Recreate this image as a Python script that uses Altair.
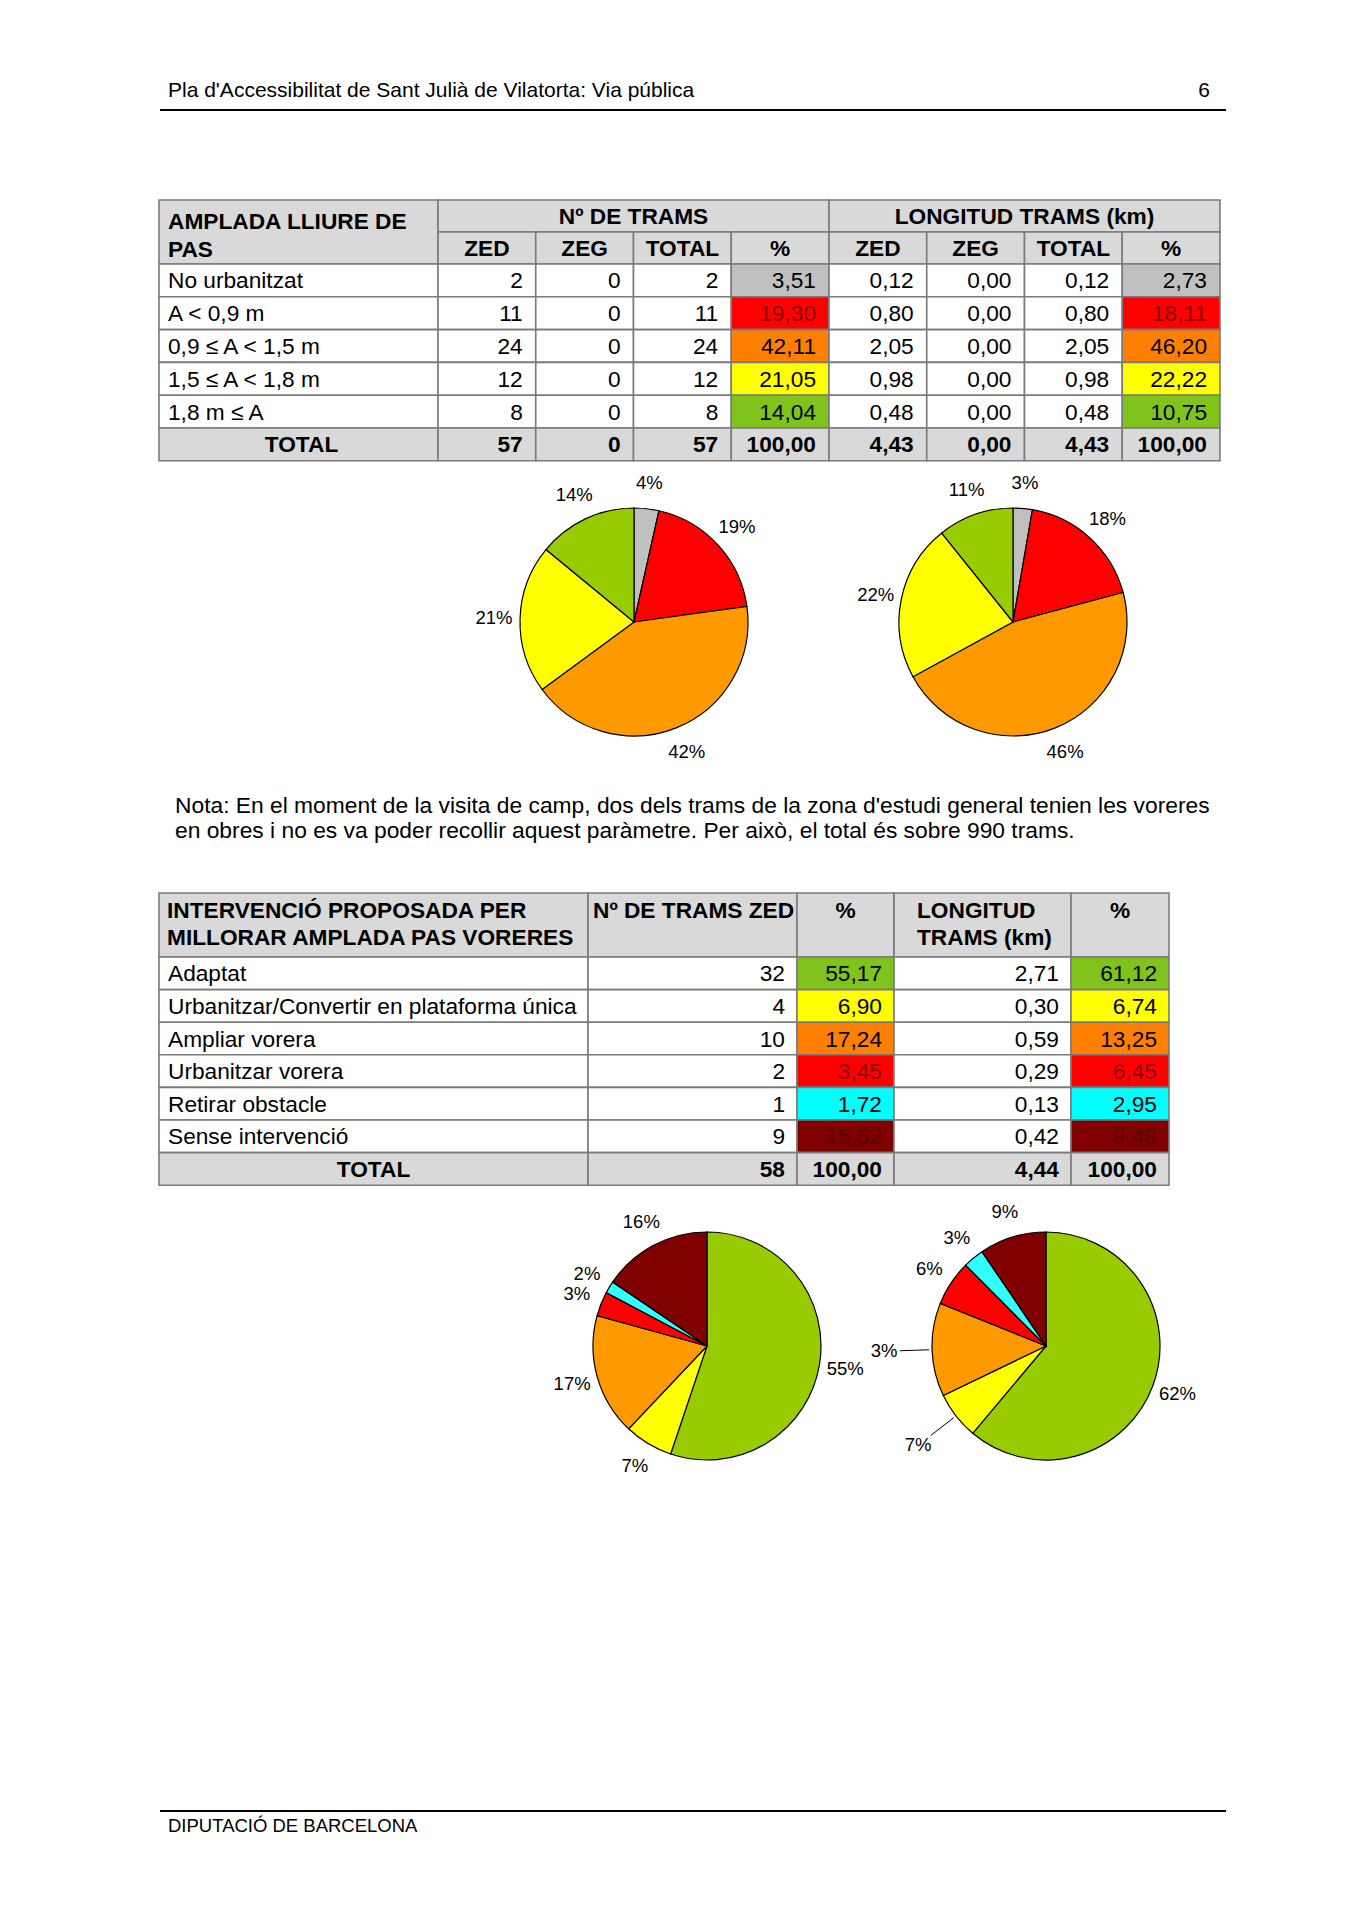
import altair as alt
import pandas as pd

# ---------------- data ----------------
header_text = "Pla d'Accessibilitat de Sant Julià de Vilatorta: Via pública"
page_number = "6"
footer_text = "DIPUTACIÓ DE BARCELONA"
note_lines = [
    "Nota: En el moment de la visita de camp, dos dels trams de la zona d'estudi general tenien les voreres",
    "en obres i no es va poder recollir aquest paràmetre. Per això, el total és sobre 990 trams.",
]

t1_title = ["AMPLADA LLIURE DE", "PAS"]
t1_group_heads = ["Nº DE TRAMS", "LONGITUD TRAMS (km)"]
t1_sub_heads = ["ZED", "ZEG", "TOTAL", "%", "ZED", "ZEG", "TOTAL", "%"]
t1_cats = ["No urbanitzat", "A < 0,9 m", "0,9 ≤ A < 1,5 m", "1,5 ≤ A < 1,8 m", "1,8 m ≤ A"]
t1_n_zed = [2, 11, 24, 12, 8]
t1_n_zeg = [0, 0, 0, 0, 0]
t1_n_tot = [2, 11, 24, 12, 8]
t1_n_pct = [3.51, 19.30, 42.11, 21.05, 14.04]
t1_km_zed = [0.12, 0.80, 2.05, 0.98, 0.48]
t1_km_zeg = [0.00, 0.00, 0.00, 0.00, 0.00]
t1_km_tot = [0.12, 0.80, 2.05, 0.98, 0.48]
t1_km_pct = [2.73, 18.11, 46.20, 22.22, 10.75]
t1_total_label = "TOTAL"
t1_totals = [57, 0, 57, 100.00, 4.43, 0.00, 4.43, 100.00]

t2_title = ["INTERVENCIÓ PROPOSADA PER", "MILLORAR AMPLADA PAS VORERES"]
t2_heads = [["Nº DE TRAMS ZED"], ["%"], ["LONGITUD", "TRAMS (km)"], ["%"]]
t2_cats = ["Adaptat", "Urbanitzar/Convertir en plataforma única", "Ampliar vorera",
           "Urbanitzar vorera", "Retirar obstacle", "Sense intervenció"]
t2_n_zed = [32, 4, 10, 2, 1, 9]
t2_n_pct = [55.17, 6.90, 17.24, 3.45, 1.72, 15.52]
t2_km = [2.71, 0.30, 0.59, 0.29, 0.13, 0.42]
t2_km_pct = [61.12, 6.74, 13.25, 6.45, 2.95, 9.49]
t2_total_label = "TOTAL"
t2_totals = [58, 100.00, 4.44, 100.00]

pie1_labels = ["4%", "19%", "42%", "21%", "14%"]
pie2_labels = ["3%", "18%", "46%", "22%", "11%"]
pie3_labels = ["55%", "7%", "17%", "3%", "2%", "16%"]
pie4_labels = ["62%", "7%", "3%", "6%", "3%", "9%"]

# ---------------- style ----------------
FONT = "Liberation Sans, Arial, Helvetica, sans-serif"
TFS = 22.7
HEAD = "#d9d9d9"
t1_table_colors = ["#c0c0c0", "#ff0000", "#ff8000", "#ffff00", "#80c31c"]
t1_pie_colors = ["#c0c0c0", "#ff0000", "#ff9900", "#ffff00", "#99cc00"]
t2_table_colors = ["#80c31c", "#ffff00", "#ff8000", "#ff0000", "#00ffff", "#800000"]
t2_pie_colors = ["#99cc00", "#ffff00", "#ff9900", "#ff0000", "#33ffff", "#800000"]
dark_text = {"A < 0,9 m": "r", "Urbanitzar vorera": "r", "Sense intervenció": "m"}
pie4_leader_cats = ["Urbanitzar/Convertir en plataforma única", "Ampliar vorera"]

key_domain = ["h", "w"] + ["t1:" + c for c in t1_cats] + ["p1:" + c for c in t1_cats] \
    + ["t2:" + c for c in t2_cats] + ["p2:" + c for c in t2_cats]
key_range = [HEAD, "#ffffff"] + t1_table_colors + t1_pie_colors + t2_table_colors + t2_pie_colors
cscale = alt.Scale(domain=key_domain, range=key_range)
tscale = alt.Scale(domain=["k", "r", "m"], range=["#000000", "#8a0000", "#5a0000"])

W, H = 1337, 1902
xs = alt.Scale(domain=[8, 8 + W], nice=False, zero=False)
ys = alt.Scale(domain=[8 + H, 8], nice=False, zero=False)


def fmt2(v):
    return f"{v:.2f}".replace(".", ",")


def fmt0(v):
    return str(int(v))


rects, texts = [], []


def rect(x, x2, y, y2, key):
    rects.append(dict(x=x, x2=x2, y=y, y2=y2, key=key))


def txt(x, y, s, align="left", bold=False, tc="k"):
    texts.append(dict(x=x, y=y, text=s, align=align, bold=bold, tc=tc))


PADL, PADR = 9, 13

# ---- table 1 ----
C1 = [159, 438] + [438 + 97.75 * k for k in range(1, 9)]
T1_TOP, T1_H1, T1_H2, RH1 = 200, 232, 264, 32.8
rect(C1[0], C1[1], T1_TOP, T1_H2, "h")
txt(C1[0] + PADL, 222, t1_title[0], bold=True)
txt(C1[0] + PADL, 250, t1_title[1], bold=True)
for g, head in enumerate(t1_group_heads):
    a, b = C1[1 + 4 * g], C1[5 + 4 * g]
    rect(a, b, T1_TOP, T1_H1, "h")
    txt((a + b) / 2, 217, head, "center", True)
for k, head in enumerate(t1_sub_heads):
    a, b = C1[1 + k], C1[2 + k]
    rect(a, b, T1_H1, T1_H2, "h")
    txt((a + b) / 2, 249, head, "center", True)
t1_cols = [t1_n_zed, t1_n_zeg, t1_n_tot, t1_n_pct, t1_km_zed, t1_km_zeg, t1_km_tot, t1_km_pct]
t1_fmt = [fmt0, fmt0, fmt0, fmt2, fmt2, fmt2, fmt2, fmt2]
for i, cat in enumerate(t1_cats):
    y = T1_H2 + RH1 * i
    y2 = y + RH1
    ym = (y + y2) / 2 + 1
    rect(C1[0], C1[1], y, y2, "w")
    txt(C1[0] + PADL, ym, cat)
    for k, col in enumerate(t1_cols):
        pct = k in (3, 7)
        rect(C1[1 + k], C1[2 + k], y, y2, ("t1:" + cat) if pct else "w")
        txt(C1[2 + k] - PADR, ym, t1_fmt[k](col[i]), "right",
            tc=dark_text.get(cat, "k") if pct else "k")
y = T1_H2 + RH1 * len(t1_cats)
y2 = y + RH1
ym = (y + y2) / 2 + 1
rect(C1[0], C1[1], y, y2, "h")
txt((C1[0] + C1[1]) / 2 + 3, ym, t1_total_label, "center", True)
for k, v in enumerate(t1_totals):
    rect(C1[1 + k], C1[2 + k], y, y2, "h")
    txt(C1[2 + k] - PADR, ym, t1_fmt[k](v), "right", True)

# ---- table 2 ----
C2 = [159, 588, 797, 894, 1071, 1169]
T2_TOP, T2_H, RH2 = 893, 957, 32.6
rect(C2[0], C2[1], T2_TOP, T2_H, "h")
txt(C2[0] + 8, 911, t2_title[0], bold=True)
txt(C2[0] + 8, 938, t2_title[1], bold=True)
for k, lines in enumerate(t2_heads):
    a, b = C2[1 + k], C2[2 + k]
    rect(a, b, T2_TOP, T2_H, "h")
    for j, line in enumerate(lines):
        if line == "%":
            txt((a + b) / 2, 911 + 27 * j, line, "center", True)
        elif k == 0:
            txt(a + 5, 911 + 27 * j, line, "left", True)
        else:
            txt(a + 23, 911 + 27 * j, line, "left", True)
t2_cols = [t2_n_zed, t2_n_pct, t2_km, t2_km_pct]
t2_fmt = [fmt0, fmt2, fmt2, fmt2]
for i, cat in enumerate(t2_cats):
    y = T2_H + RH2 * i
    y2 = y + RH2
    ym = (y + y2) / 2 + 1
    rect(C2[0], C2[1], y, y2, "w")
    txt(C2[0] + PADL, ym, cat)
    for k, col in enumerate(t2_cols):
        pct = k in (1, 3)
        rect(C2[1 + k], C2[2 + k], y, y2, ("t2:" + cat) if pct else "w")
        txt(C2[2 + k] - PADR + 1, ym, t2_fmt[k](col[i]), "right",
            tc=dark_text.get(cat, "k") if pct else "k")
y = T2_H + RH2 * len(t2_cats)
y2 = y + RH2
ym = (y + y2) / 2 + 1
rect(C2[0], C2[1], y, y2, "h")
txt((C2[0] + C2[1]) / 2, ym, t2_total_label, "center", True)
for k, v in enumerate(t2_totals):
    rect(C2[1 + k], C2[2 + k], y, y2, "h")
    txt(C2[2 + k] - PADR + 1, ym, t2_fmt[k](v), "right", True)

rect_df = pd.DataFrame(rects)
text_df = pd.DataFrame(texts)

layers = []

layers.append(
    alt.Chart(rect_df).mark_rect(stroke="#7b7b7b", strokeWidth=1.6).encode(
        x=alt.X("x:Q", scale=xs, axis=None),
        x2="x2:Q",
        y=alt.Y("y:Q", scale=ys, axis=None),
        y2="y2:Q",
        color=alt.Color("key:N", scale=cscale, legend=None),
    )
)

for align in ["left", "right", "center"]:
    for bold in [False, True]:
        sub = text_df[(text_df["align"] == align) & (text_df["bold"] == bold)]
        if len(sub) == 0:
            continue
        layers.append(
            alt.Chart(sub).mark_text(
                align=align, baseline="middle", font=FONT, fontSize=TFS,
                fontWeight="bold" if bold else "normal",
            ).encode(
                x=alt.X("x:Q", scale=xs, axis=None),
                y=alt.Y("y:Q", scale=ys, axis=None),
                text="text:N",
                color=alt.Color("tc:N", scale=tscale, legend=None),
            )
        )

# ---- page header / note / footer ----
page_df = pd.DataFrame([
    dict(x=168, y=91, text=header_text, kind="hl"),
    dict(x=1210, y=91, text=page_number, kind="hr"),
    dict(x=175, y=806, text=note_lines[0], kind="n"),
    dict(x=175, y=831, text=note_lines[1], kind="n"),
    dict(x=168, y=1826, text=footer_text, kind="f"),
])
for kind, align, fs in [("hl", "left", 21), ("hr", "right", 21), ("n", "left", 22.8), ("f", "left", 18.5)]:
    layers.append(
        alt.Chart(page_df).transform_filter(alt.datum.kind == kind).mark_text(
            align=align, baseline="middle", font=FONT, fontSize=fs, color="black"
        ).encode(
            x=alt.X("x:Q", scale=xs, axis=None),
            y=alt.Y("y:Q", scale=ys, axis=None),
            text="text:N",
        )
    )

rule_df = pd.DataFrame([dict(x=160, x2=1226, y=110), dict(x=160, x2=1226, y=1811)])
layers.append(
    alt.Chart(rule_df).mark_rule(color="black", strokeWidth=2).encode(
        x=alt.X("x:Q", scale=xs, axis=None), x2="x2:Q",
        y=alt.Y("y:Q", scale=ys, axis=None),
    )
)

# ---- pies ----
R = 114
LR = 140


def pie_df(cats, vals, labels, prefix, leaders=()):
    return pd.DataFrame({
        "idx": list(range(len(cats))),
        "cat": cats,
        "v": vals,
        "key": [prefix + c for c in cats],
        "lab": [("" if c in leaders else l) for c, l in zip(cats, labels)],
        "lab2": [(l if c in leaders else "") for c, l in zip(cats, labels)],
    })


pies = [
    (pie_df(t1_cats, t1_n_pct, pie1_labels, "p1:"), 634, 622, ()),
    (pie_df(t1_cats, t1_km_pct, pie2_labels, "p1:"), 1013, 622, ()),
    (pie_df(t2_cats, t2_n_pct, pie3_labels, "p2:"), 707, 1346, ()),
    (pie_df(t2_cats, t2_km_pct, pie4_labels, "p2:", pie4_leader_cats), 1046, 1346,
     tuple(pie4_leader_cats)),
]

for df, cx, cy, leaders in pies:
    base = alt.Chart(df).encode(
        theta=alt.Theta("v:Q", stack=True),
        order=alt.Order("idx:Q"),
        x=alt.value(cx - 8),
        y=alt.value(cy - 8),
    )
    layers.append(
        base.mark_arc(outerRadius=R, stroke="black", strokeWidth=1.2).encode(
            color=alt.Color("key:N", scale=cscale, legend=None)
        )
    )
    layers.append(
        base.mark_text(radius=LR, font=FONT, fontSize=18.5, color="black").encode(text="lab:N")
    )
    if leaders:
        layers.append(
            base.mark_text(radius=162, font=FONT, fontSize=18.5, color="black").encode(text="lab2:N")
        )
        layers.append(
            alt.Chart(df)
            .transform_window(cum="sum(v)", sort=[alt.SortField("idx")], frame=[None, 0])
            .transform_joinaggregate(tot="sum(v)")
            .transform_calculate(a="2*PI*(datum.cum - datum.v/2)/datum.tot")
            .transform_calculate(
                xa=f"{cx}+{R + 3}*sin(datum.a)", ya=f"{cy}-{R + 3}*cos(datum.a)",
                xb=f"{cx}+{LR + 6}*sin(datum.a)", yb=f"{cy}-{LR + 6}*cos(datum.a)",
            )
            .transform_filter(alt.FieldOneOfPredicate(field="cat", oneOf=list(leaders)))
            .mark_rule(color="black", strokeWidth=1)
            .encode(
                x=alt.X("xa:Q", scale=xs, axis=None), x2="xb:Q",
                y=alt.Y("ya:Q", scale=ys, axis=None), y2="yb:Q",
            )
        )

chart = (
    alt.layer(*layers)
    .resolve_scale(color="independent")
    .properties(width=W, height=H, padding=0, background="white",
                autosize=alt.AutoSizeParams(type="none"))
    .configure_view(strokeWidth=0)
)

chart.save("out.html", embed_options={"renderer": "svg", "actions": False})
